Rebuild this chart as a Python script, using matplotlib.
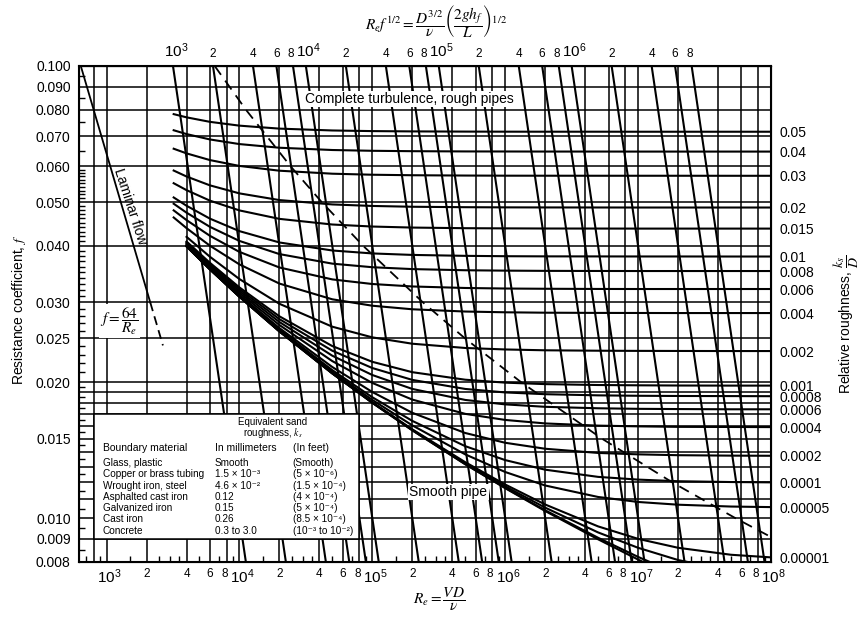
import numpy as np
import matplotlib
matplotlib.use("Agg")
import matplotlib.pyplot as plt
from matplotlib.patches import Rectangle
from matplotlib.ticker import NullFormatter, NullLocator
from matplotlib.transforms import ScaledTranslation

plt.rcParams["font.family"] = ["Liberation Sans", "DejaVu Sans"]
plt.rcParams["mathtext.fontset"] = "stix"

# relative roughness of each curve, 0 = smooth pipe
roughness = [0.05, 0.04, 0.03, 0.02, 0.015, 0.01, 0.008, 0.006, 0.004, 0.002,
             0.001, 0.0008, 0.0006, 0.0004, 0.0002, 0.0001, 0.00005, 0.00001,
             0.000005, 0.000001, 0.0]
right_labels = ["0.05", "0.04", "0.03", "0.02", "0.015", "0.01", "0.008", "0.006",
                "0.004", "0.002", "0.001", "0.0008", "0.0006", "0.0004", "0.0002",
                "0.0001", "0.00005", "0.00001"]
re_pts = [3.2e3, 4e3, 6e3, 1e4, 2e4, 5e4, 1e5, 2e5, 5e5, 1e6, 2e6, 5e6, 1e7, 2e7, 5e7, 1e8]

# friction factor x 1e5 along each curve at re_pts (None: curve not started yet)
f_x1e5 = [
    [7826, 7699, 7524, 7380, 7269, 7201, 7178, 7167, 7160, 7157, 7156, 7156, 7155, 7155, 7155, 7155],
    [7209, 7070, 6879, 6719, 6595, 6519, 6493, 6480, 6472, 6470, 6468, 6468, 6467, 6467, 6467, 6467],
    [6562, 6408, 6193, 6011, 5867, 5778, 5748, 5733, 5724, 5720, 5719, 5718, 5718, 5718, 5717, 5717],
    [5872, 5696, 5445, 5227, 5052, 4941, 4903, 4883, 4872, 4868, 4866, 4865, 4864, 4864, 4864, 4864],
    [5505, 5314, 5037, 4793, 4591, 4461, 4415, 4392, 4378, 4374, 4371, 4370, 4369, 4369, 4369, 4369],
    [5120, 4908, 4596, 4313, 4071, 3908, 3850, 3821, 3803, 3796, 3793, 3792, 3791, 3791, 3790, 3790],
    [4959, 4738, 4408, 4103, 3837, 3655, 3589, 3555, 3534, 3527, 3523, 3521, 3520, 3520, 3520, 3520],
    [4794, 4562, 4211, 3880, 3584, 3373, 3295, 3254, 3229, 3220, 3216, 3213, 3212, 3212, 3212, 3212],
    [4624, 4379, 4004, 3641, 3302, 3048, 2950, 2897, 2864, 2853, 2847, 2844, 2843, 2842, 2842, 2842],
    [None, 4189, 3785, 3379, 2979, 2651, 2511, 2431, 2379, 2361, 2351, 2346, 2344, 2343, 2342, 2342],
    [None, 4091, 3670, 3238, 2795, 2402, 2217, 2103, 2024, 1994, 1979, 1970, 1967, 1965, 1964, 1964],
    [None, 4071, 3646, 3209, 2755, 2346, 2148, 2022, 1931, 1897, 1880, 1869, 1865, 1863, 1862, 1861],
    [None, 4051, 3622, 3179, 2715, 2287, 2073, 1931, 1826, 1785, 1763, 1750, 1745, 1743, 1741, 1741],
    [None, 4031, 3599, 3149, 2674, 2225, 1991, 1829, 1701, 1649, 1620, 1602, 1596, 1592, 1591, 1590],
    [None, 4011, 3575, 3119, 2632, 2159, 1901, 1710, 1543, 1468, 1424, 1394, 1384, 1378, 1375, 1374],
    [None, 4001, 3562, 3104, 2610, 2125, 1851, 1641, 1443, 1344, 1280, 1234, 1217, 1207, 1202, 1200],
    [None, 3996, 3556, 3096, 2599, 2107, 1826, 1604, 1384, 1265, 1181, 1114, 1086, 1071, 1061, 1058],
    [None, 3992, 3552, 3090, 2591, 2093, 1804, 1572, 1330, 1187, 1072, 959, 900, 860, 830, 819],
    [None, 3991, 3551, 3089, 2589, 2091, 1802, 1568, 1323, 1176, 1055, 930, 860, 808, 765, 747],
    [None, 3991, 3550, 3088, 2589, 2090, 1800, 1565, 1317, 1167, 1041, 905, 821, 752, 682, 643],
    [None, 3991, 3550, 3088, 2588, 2089, 1799, 1564, 1316, 1165, 1037, 898, 810, 734, 649, 594],
]
friction = [[np.nan if v is None else v / 1e5 for v in row] for row in f_x1e5]

# lines of constant Re f^1/2 (top scale)
top_vals = [1e3, 2e3, 4e3, 6e3, 8e3, 1e4, 2e4, 4e4, 6e4, 8e4,
            1e5, 2e5, 4e5, 6e5, 8e5, 1e6, 2e6, 4e6, 6e6, 8e6]
top_labels = ["$\\mathregular{10^3}$", "2", "4", "6", "8", "$\\mathregular{10^4}$", "2", "4", "6", "8",
              "$\\mathregular{10^5}$", "2", "4", "6", "8", "$\\mathregular{10^6}$", "2", "4", "6", "8"]

bottom_ticks = [1e3, 2e3, 4e3, 6e3, 8e3, 1e4, 2e4, 4e4, 6e4, 8e4, 1e5, 2e5, 4e5, 6e5, 8e5,
                1e6, 2e6, 4e6, 6e6, 8e6, 1e7, 2e7, 4e7, 6e7, 8e7, 1e8]
bottom_labels = ["$\\mathregular{10^3}$", "2", "4", "6", "8", "$\\mathregular{10^4}$", "2", "4", "6", "8",
                 "$\\mathregular{10^5}$", "2", "4", "6", "8", "$\\mathregular{10^6}$", "2", "4", "6", "8",
                 "$\\mathregular{10^7}$", "2", "4", "6", "8", "$\\mathregular{10^8}$"]
grid_re = [800] + bottom_ticks[:-1]
minor_re = [700, 900]
for d in [1e3, 1e4, 1e5, 1e6, 1e7]:
    minor_re += [m * d for m in [1.5, 2.5, 3, 3.5, 5, 7, 9]]

left_ticks = [0.100, 0.090, 0.080, 0.070, 0.060, 0.050, 0.040, 0.030, 0.025, 0.020,
              0.015, 0.010, 0.009, 0.008]
left_labels = ["0.100", "0.090", "0.080", "0.070", "0.060", "0.050", "0.040", "0.030",
               "0.025", "0.020", "0.015", "0.010", "0.009", "0.008"]
grid_f = [0.100, 0.090, 0.080, 0.070, 0.060, 0.050, 0.040, 0.030, 0.025, 0.020, 0.019,
          0.018, 0.017, 0.016, 0.015, 0.014, 0.013, 0.012, 0.011, 0.010, 0.009]
minor_f = ([0.095, 0.085, 0.075, 0.065] + [k / 1000 for k in range(21, 60) if k % 5 != 0 or k in (35, 45, 55)]
           + [0.0085, 0.0095, 0.0105, 0.0115, 0.0125, 0.0135, 0.0145, 0.0155, 0.0165, 0.0175,
              0.0185, 0.0195])

laminar_re = [640, 2133, 2656]
laminar_f = [0.100, 0.030, 0.0241]

# dashed limit of complete turbulence
limit_re = [6513, 11200, 24260, 41630, 85460, 240500, 496700, 1313000, 5330000, 18090000,
            54050000, 106200000]
limit_f = [0.100, 0.080, 0.060, 0.050, 0.040, 0.030, 0.025, 0.020, 0.015, 0.012, 0.010, 0.009]

materials = ["Glass, plastic", "Copper or brass tubing", "Wrought iron, steel",
             "Asphalted cast iron", "Galvanized iron", "Cast iron", "Concrete"]
ks_mm = ["Smooth", "1.5 \u00d7 10\u207b\u00b3", "4.6 \u00d7 10\u207b\u00b2",
         "0.12", "0.15", "0.26", "0.3 to 3.0"]
ks_ft = ["(Smooth)", "(5 \u00d7 10\u207b\u2076)", "(1.5 \u00d7 10\u207b\u2074)",
         "(4 \u00d7 10\u207b\u2074)", "(5 \u00d7 10\u207b\u2074)", "(8.5 \u00d7 10\u207b\u2074)",
         "(10\u207b\u00b3 to 10\u207b\u00b2)"]

fig = plt.figure(figsize=(8.62, 6.19), dpi=100)
ax = fig.add_axes([0.0916, 0.0921, 0.8028, 0.8013])
ax.set_xscale("log")
ax.set_yscale("log")
ax.set_xlim(620, 1e8)
ax.set_ylim(0.008, 0.1)

for x in grid_re:
    ax.axvline(x, color="black", lw=1.1, zorder=1)
for y in grid_f:
    ax.axhline(y, color="black", lw=1.1, zorder=1)

for row in friction:
    ax.plot(re_pts, row, color="black", lw=1.5, zorder=2)

f_span = np.array([0.1, 0.008])
for c in top_vals:
    ax.plot(c / np.sqrt(f_span), f_span, color="black", lw=1.5, zorder=2)

ax.plot(laminar_re[:2], laminar_f[:2], color="black", lw=1.3, zorder=2)
ax.plot(laminar_re[1:], laminar_f[1:], color="black", lw=1.3, ls=(0, (5, 3)), zorder=2)
ax.plot(limit_re, limit_f, color="black", lw=1.3, ls=(0, (6, 4)), zorder=2)

ax.set_xticks(bottom_ticks, labels=bottom_labels)
ax.set_xticks(minor_re, minor=True)
ax.set_yticks(left_ticks, labels=left_labels)
ax.set_yticks(minor_f, minor=True)
ax.xaxis.set_minor_formatter(NullFormatter())
ax.yaxis.set_minor_formatter(NullFormatter())
ax.tick_params(which="major", length=0, labelsize=10)
ax.tick_params(axis="y", which="major", pad=6)
ax.tick_params(axis="x", which="major", pad=4)
ax.tick_params(which="minor", length=4, width=1, direction="in")
for s in ax.spines.values():
    s.set_linewidth(1.5)

secax = ax.secondary_xaxis("top", functions=(lambda r: r * np.sqrt(0.1), lambda c: c / np.sqrt(0.1)))
secax.set_xticks(top_vals, labels=top_labels)
secax.xaxis.set_minor_locator(NullLocator())
secax.tick_params(length=0, pad=4)

# powers of ten a little right, the small digits a little smaller
shift_right = ScaledTranslation(2 / 72, 0, fig.dpi_scale_trans)
shift_left = ScaledTranslation(-1.5 / 72, 0, fig.dpi_scale_trans)
for lab in list(ax.get_xticklabels()) + list(secax.get_xticklabels()):
    if "10^" in lab.get_text():
        lab.set_fontsize(11)
        lab.set_transform(lab.get_transform() + shift_right)
    else:
        lab.set_fontsize(8.5)
        if lab.get_text() == "8":
            lab.set_transform(lab.get_transform() + shift_left)

# right scale: roughness label at the end of each curve
axr = ax.twinx()
axr.set_yscale("log")
axr.set_ylim(0.008, 0.1)
axr.set_yticks([row[-1] for row in friction[:len(right_labels)]], labels=right_labels)
axr.yaxis.set_minor_locator(NullLocator())
axr.tick_params(length=0, pad=6, labelsize=10)
axr.set_ylabel("Relative roughness, $\\dfrac{k_s}{D}$", fontsize=10)
axr.yaxis.set_label_coords(1.088, 0.478)

ax.set_ylabel("Resistance coefficient, $f$", fontsize=10)
ax.yaxis.set_label_coords(-0.074, 0.508)

fig.text(0.506, 0.966,
         "$R_e f^{1/2} = \\dfrac{D^{3/2}}{\\nu}\\left(\\dfrac{2gh_f}{L}\\right)^{1/2}$",
         ha="center", va="center", fontsize=11)
fig.text(0.509, 0.031, "$R_e = \\dfrac{VD}{\\nu}$", ha="center", va="center", fontsize=11)

white = dict(facecolor="white", edgecolor="none", pad=1)
ax.text(1514, 0.0488, "Laminar flow", rotation=-72, ha="center", va="center",
        rotation_mode="anchor", fontsize=10, zorder=4)
ax.text(1252, 0.0273, "$f = \\dfrac{64}{R_e}$", ha="center", va="center", fontsize=11,
        bbox=white, zorder=4)
ax.text(1.9e5, 0.0845, "Complete turbulence, rough pipes", ha="center", va="center",
        fontsize=10, bbox=white, zorder=4)
ax.text(3.72e5, 0.01142, "Smooth pipe", ha="center", va="center", fontsize=10,
        bbox=white, zorder=4)

# table of sand roughness
ax.add_patch(Rectangle((800, 0.009), 8e4 - 800, 0.017 - 0.009, facecolor="white",
                       edgecolor="black", lw=1.1, zorder=5))
ax.text(0.280, 0.282, "Equivalent sand", transform=ax.transAxes, ha="center", va="center",
        fontsize=7, zorder=6)
ax.text(0.280, 0.260, "roughness, $k_s$", transform=ax.transAxes, ha="center", va="center",
        fontsize=7, zorder=6)
ax.text(0.0347, 0.230, "Boundary material", transform=ax.transAxes, va="center", fontsize=7.5, zorder=6)
ax.text(0.1965, 0.230, "In millimeters", transform=ax.transAxes, va="center", fontsize=7.5, zorder=6)
ax.text(0.309, 0.230, "(In feet)", transform=ax.transAxes, va="center", fontsize=7.5, zorder=6)
row_y = [0.1996, 0.1764, 0.153, 0.131, 0.109, 0.0867, 0.0625]
for y, m, mm, ft in zip(row_y, materials, ks_mm, ks_ft):
    ax.text(0.0347, y, m, transform=ax.transAxes, va="center", fontsize=7.2, zorder=6)
    ax.text(0.1965, y, mm, transform=ax.transAxes, va="center", fontsize=7.2, zorder=6)
    ax.text(0.309, y, ft, transform=ax.transAxes, va="center", fontsize=7.2, zorder=6)

fig.savefig("out.png", dpi=100)
